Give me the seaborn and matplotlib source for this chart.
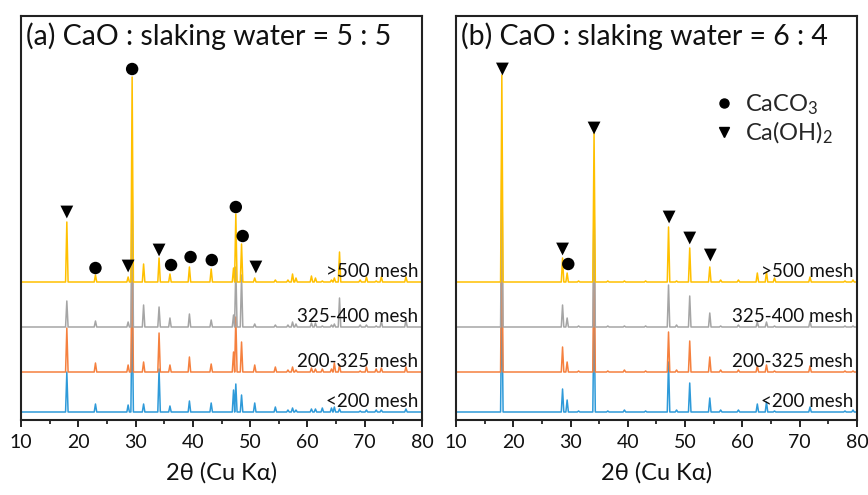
import numpy as np
import pandas as pd
import matplotlib
matplotlib.use("Agg")
import matplotlib.pyplot as plt
import seaborn as sns
from matplotlib.lines import Line2D
from matplotlib.ticker import MultipleLocator

sns.set_theme(style="white")
plt.rcParams["font.family"] = ["Lato", "DejaVu Sans"]
plt.rcParams["mathtext.fontset"] = "custom"
plt.rcParams["mathtext.rm"] = "Lato"
plt.rcParams["mathtext.it"] = "Lato:italic"

# ---------------- data ----------------
traces = ["<200 mesh", "200-325 mesh", "325-400 mesh", ">500 mesh"]
colors = ["#2E9AD9", "#F5803E", "#A5A5A5", "#FFC000"]
offsets = [8, 48, 93, 138]  # vertical stacking offsets (a.u.)

# panel (a): CaO : slaking water = 5 : 5
peaks_a = [18.0, 23.0, 28.7, 29.4, 31.4, 34.1, 36.0, 39.4, 43.2, 47.1, 47.5, 48.5,
           50.8, 54.4, 56.6, 57.4, 58.0, 60.7, 61.4, 62.6, 64.2, 64.7, 65.6, 69.2,
           70.3, 72.0, 72.9, 77.2]
blue_a   = [40, 8, 7, 110, 8, 43, 6, 11, 9, 22, 28, 17, 9, 5, 2, 4, 2, 3, 3, 4, 4, 5, 3, 1, 2, 2, 2, 3]
orange_a = [44, 9, 7, 130, 10, 39, 7, 15, 8, 20, 55, 30, 7, 5, 2, 5, 2, 4, 3, 3, 3, 9, 7, 1, 5, 3, 4, 5]
gray_a   = [26, 6, 5, 150, 22, 20, 9, 13, 7, 12, 60, 52, 3, 2, 2, 5, 3, 4, 4, 1, 2, 3, 29, 2, 2, 1, 6, 7]
yellow_a = [60, 7, 5, 205, 18, 24, 8, 15, 13, 14, 68, 38, 4, 2, 2, 8, 4, 6, 4, 1, 2, 4, 30, 2, 5, 1, 5, 5]

# panel (b): CaO : slaking water = 6 : 4
peaks_b = [18.0, 28.6, 29.4, 31.4, 34.1, 36.5, 39.4, 43.1, 47.1, 48.5, 50.8, 54.3,
           56.2, 59.3, 62.6, 64.2, 65.6, 71.8, 77.9, 79.3]
blue_b   = [120, 23, 12, 1, 110, 1, 2, 1, 50, 2, 29, 14, 2, 2, 8, 10, 1, 5, 1, 2]
orange_b = [160, 25, 10, 1, 140, 1, 2, 1, 40, 2, 31, 15, 2, 2, 6, 7, 1, 6, 1, 1]
gray_b   = [170, 22, 9, 1, 130, 1, 1, 1, 42, 2, 31, 14, 1, 2, 5, 5, 1, 6, 1, 1]
yellow_b = [207, 24, 9, 1, 149, 1, 1, 1, 55, 1, 34, 15, 2, 2, 9, 10, 4, 5, 1, 2]

# phase markers
caco3_a_x = [23.0, 29.4, 36.2, 39.6, 43.3, 47.5, 48.7]
caco3_a_y = [152, 351, 155, 163, 160, 213, 184]
caoh2_a_x = [18.0, 28.7, 34.1, 51.0]
caoh2_a_y = [208, 154, 170, 153]
caco3_b_x = [29.6]
caco3_b_y = [156]
caoh2_b_x = [18.1, 28.6, 34.1, 47.2, 50.8, 54.4]
caoh2_b_y = [351, 171, 292, 203, 182, 165]

titles = ["(a) CaO : slaking water = 5 : 5", "(b) CaO : slaking water = 6 : 4"]
xlabel = "2θ (Cu Kα)"


def build_frame(peaks, heights_list):
    rows = []
    hw = 0.22
    for name, base, hts in zip(traces, offsets, heights_list):
        rows.append((name, 10.0, base))
        for p, h in zip(peaks, hts):
            rows += [(name, p - hw, base), (name, p, base + h), (name, p + hw, base)]
        rows.append((name, 80.0, base))
    df = pd.DataFrame(rows, columns=["trace", "x", "y"])
    return df


df_a = build_frame(peaks_a, [blue_a, orange_a, gray_a, yellow_a])
df_b = build_frame(peaks_b, [blue_b, orange_b, gray_b, yellow_b])

fig = plt.figure(figsize=(8.68, 4.95), dpi=100)
ax_a = fig.add_axes([21 / 868, 1 - 420 / 495, 401 / 868, 404 / 495])
ax_b = fig.add_axes([456 / 868, 1 - 420 / 495, 401 / 868, 404 / 495])

panels = [
    (ax_a, df_a, caco3_a_x, caco3_a_y, caoh2_a_x, caoh2_a_y, titles[0]),
    (ax_b, df_b, caco3_b_x, caco3_b_y, caoh2_b_x, caoh2_b_y, titles[1]),
]

for ax, df, cx, cy, tx, ty, title in panels:
    sns.lineplot(data=df, x="x", y="y", hue="trace", hue_order=traces,
                 palette=colors, sort=False, estimator=None, units="trace",
                 legend=False, linewidth=1.1, ax=ax)
    sns.scatterplot(x=cx, y=cy, marker="o", color="black", s=80,
                    edgecolor="none", ax=ax, zorder=5)
    sns.scatterplot(x=tx, y=ty, marker="v", color="black", s=85,
                    edgecolor="none", ax=ax, zorder=5)
    for name, base in zip(traces, offsets):
        ax.text(79.4, base + 2, name, ha="right", va="bottom", fontsize=13.5,
                color="#111111", zorder=6)
    ax.text(0.012, 0.985, title, transform=ax.transAxes, ha="left", va="top",
            fontsize=20.5, color="#111111")
    ax.set_xlim(10, 80)
    ax.set_ylim(0, 404)
    ax.set_yticks([])
    ax.set_ylabel("")
    ax.set_xlabel(xlabel, fontsize=17, labelpad=8, color="#111111")
    ax.xaxis.set_major_locator(MultipleLocator(10))
    ax.xaxis.set_minor_locator(MultipleLocator(5))
    ax.tick_params(axis="x", which="major", direction="out", length=5, width=1.3,
                   labelsize=14, colors="#111111", bottom=True, pad=5)
    ax.tick_params(axis="x", which="minor", direction="out", length=3, width=1.3,
                   bottom=True)
    for sp in ax.spines.values():
        sp.set_visible(True)
        sp.set_color("#222222")
        sp.set_linewidth(1.5)

handles = [
    Line2D([], [], marker="o", ls="", color="black", markersize=6.5, label="CaCO$_3$"),
    Line2D([], [], marker="v", ls="", color="black", markersize=6.5, label="Ca(OH)$_2$"),
]
ax_b.legend(handles=handles, loc="upper left", bbox_to_anchor=(0.61, 0.835),
            frameon=False, fontsize=17, handletextpad=0.3, labelspacing=0.12,
            handlelength=1.2, borderaxespad=0)

fig.savefig("out.png", dpi=100)
